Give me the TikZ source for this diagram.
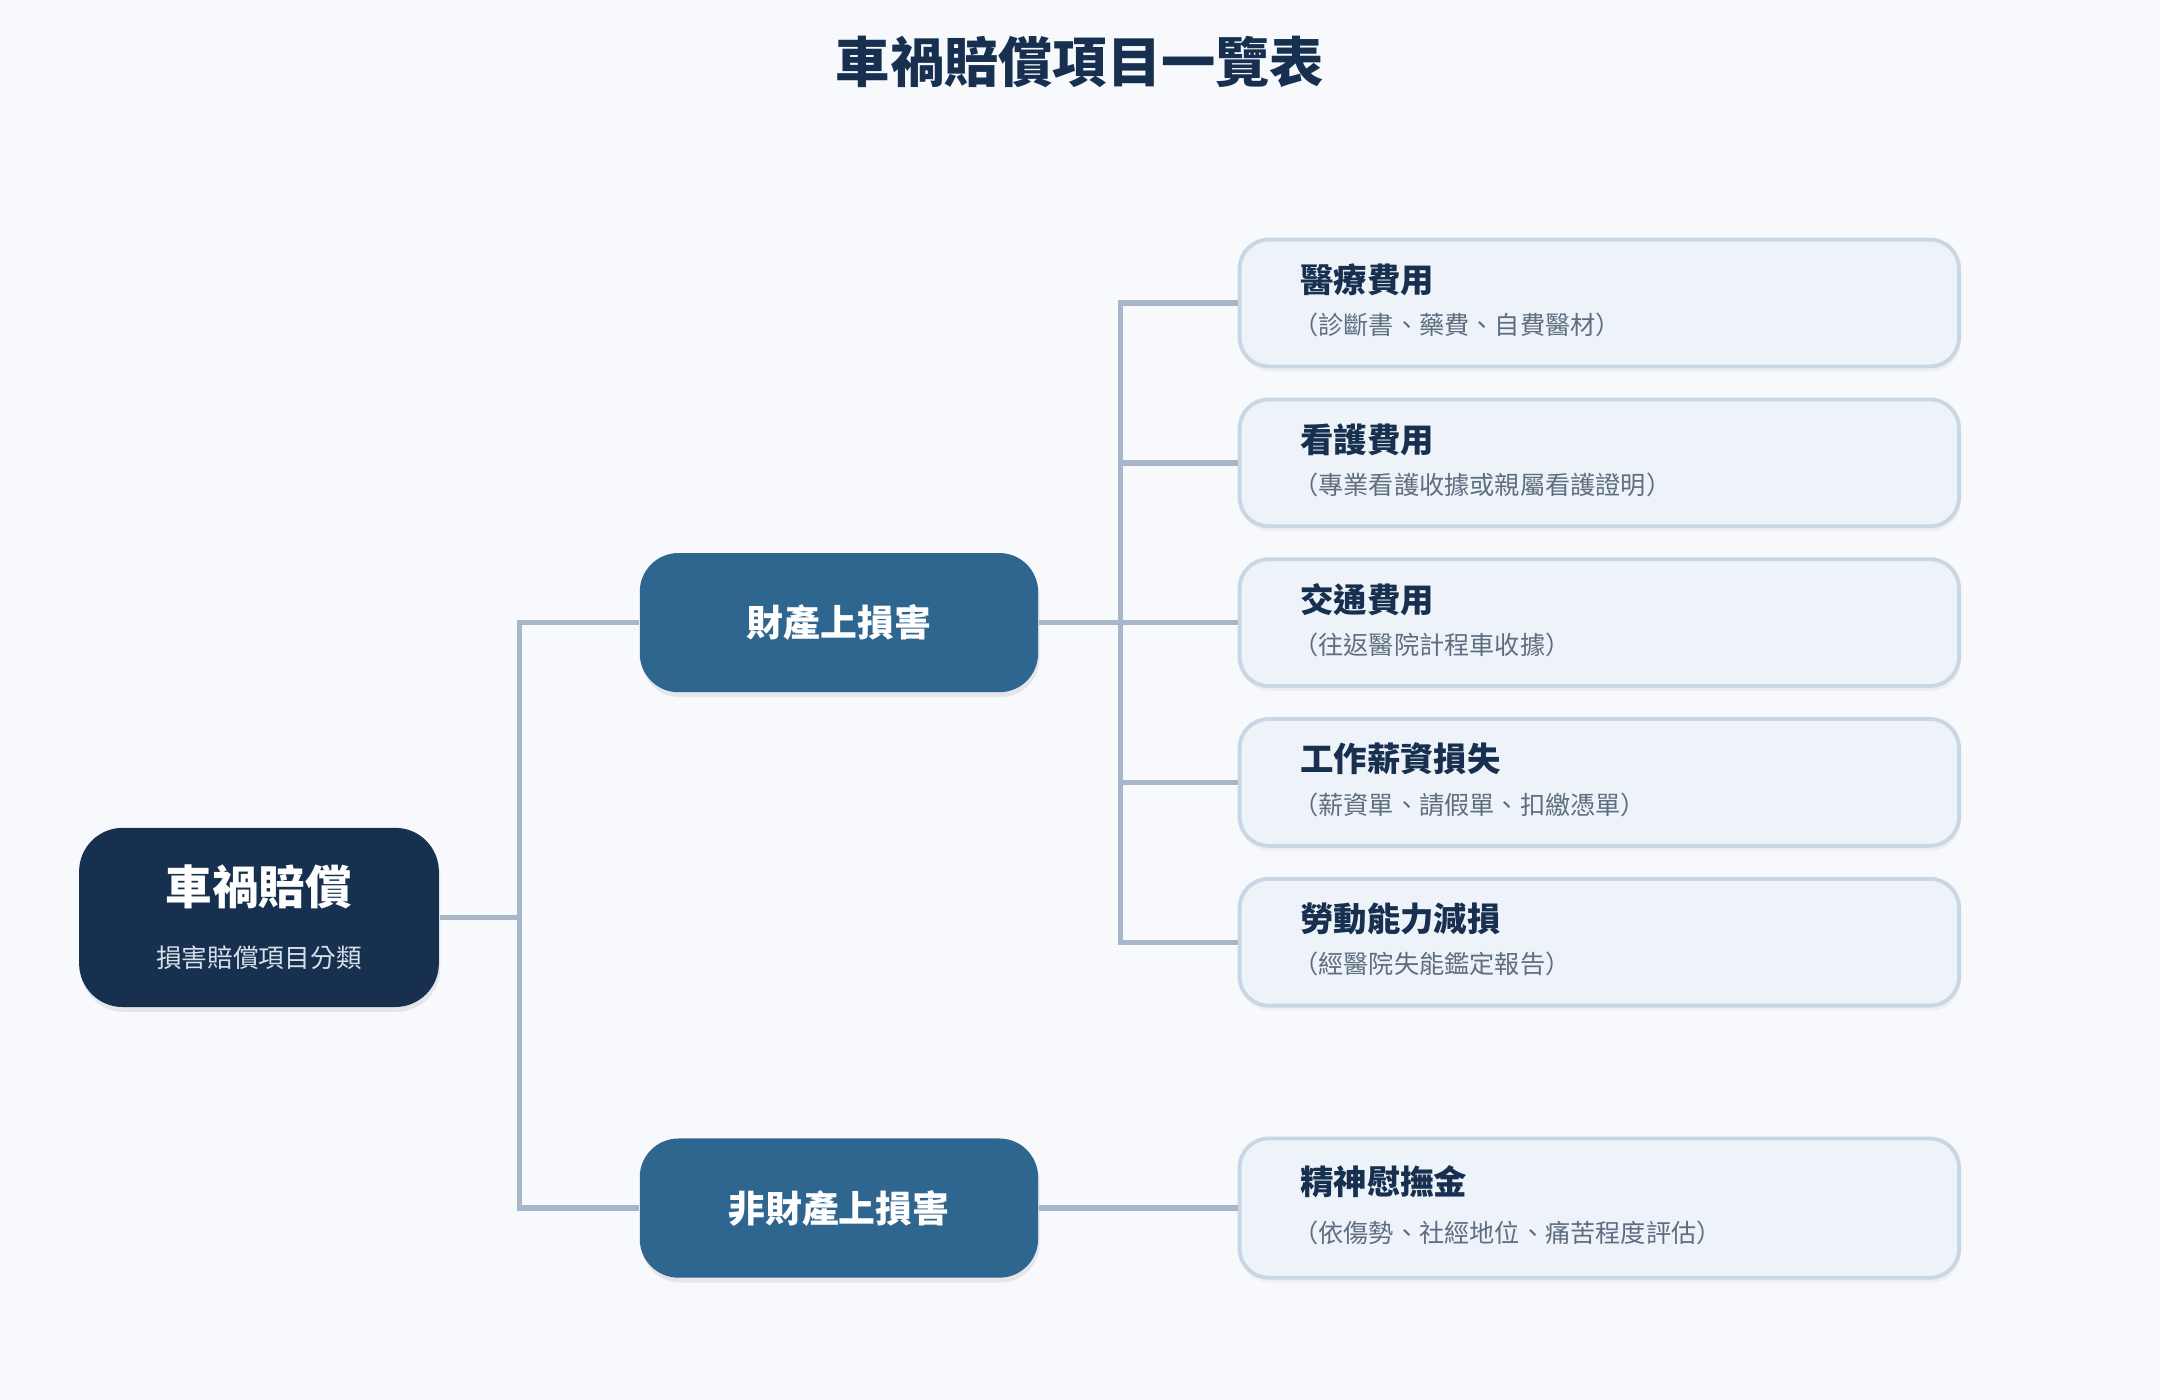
\documentclass[tikz,border=0pt]{standalone}
\usepackage{fontspec}
\setmainfont{Noto Sans CJK TC}
\usetikzlibrary{positioning,shadows}
\definecolor{bgc}{HTML}{F7F9FC}
\definecolor{navy}{HTML}{17304F}
\definecolor{midc}{HTML}{2E6690}
\definecolor{leafc}{HTML}{EEF3F9}
\definecolor{leafb}{HTML}{C9D6E5}
\definecolor{linec}{HTML}{A7B6C8}
\definecolor{subc}{HTML}{5E6E80}
\tikzset{
  rootbox/.style={rounded corners=9pt, fill=navy, text=white, minimum width=2.61cm, minimum height=1.3cm, align=center, drop shadow={opacity=0.15, shadow xshift=0.3pt, shadow yshift=-1pt}},
  midbox/.style={rounded corners=8pt, fill=midc, text=white, minimum width=2.89cm, minimum height=1.01cm, font=\fontsize{7.6pt}{9pt}\selectfont\bfseries, drop shadow={opacity=0.15, shadow xshift=0.3pt, shadow yshift=-1pt}},
  leafbox/.style={rounded corners=6pt, fill=leafc, draw=leafb, line width=0.8pt, minimum width=5.22cm, minimum height=0.92cm, drop shadow={opacity=0.08, shadow xshift=0.3pt, shadow yshift=-1pt}},
  leaftitle/.style={anchor=west, text=navy, font=\fontsize{6.9pt}{8pt}\selectfont\bfseries},
  leafsub/.style={anchor=west, text=subc, font=\fontsize{5.2pt}{6pt}\selectfont},
  link/.style={draw=linec, line width=1.1pt}
}
\begin{document}
\begin{tikzpicture}[x=0.01cm, y=-0.01cm]
  \fill[bgc] (0,0) rectangle (1568,1016);
  \useasboundingbox (0,0) rectangle (1568,1016);
  \node[text=navy, font=\fontsize{11.2pt}{13pt}\selectfont\bfseries] (title) at (784,45) {車禍賠償項目一覽表};
  % root and branches
  \node[rootbox] (root) at (188,666) {{\fontsize{9.6pt}{12pt}\selectfont\bfseries 車禍賠償}\\[1pt]{\fontsize{5.3pt}{7pt}\selectfont\color{white!80!midc} 損害賠償項目分類}};
  \node[midbox] (prop) at (609,452) {財產上損害};
  \node[midbox] (nonprop) at (609,877) {非財產上損害};
  \draw[link] (root.east) -- ++(58,0) |- (prop.west);
  \draw[link] (root.east) -- ++(58,0) |- (nonprop.west);
  % leaves
  \foreach \n/\y/\t/\s in {l1/220/醫療費用/{（診斷書、藥費、自費醫材）},
      l2/336/看護費用/{（專業看護收據或親屬看護證明）},
      l3/452/交通費用/{（往返醫院計程車收據）},
      l4/568/工作薪資損失/{（薪資單、請假單、扣繳憑單）},
      l5/684/勞動能力減損/{（經醫院失能鑑定報告）}} {
    \node[leafbox] (\n) at (1161,\y) {};
    \node[leaftitle] at ([xshift=0.33cm,yshift=0.17cm]\n.west) {\t};
    \node[leafsub] at ([xshift=0.28cm,yshift=-0.16cm]\n.west) {\s};
    \draw[link] (prop.east) -- ++(59,0) |- (\n.west);
  }
  \node[leafbox, minimum height=1.01cm] (l6) at (1161,877) {};
  \node[leaftitle] at ([xshift=0.33cm,yshift=0.19cm]l6.west) {精神慰撫金};
  \node[leafsub] at ([xshift=0.28cm,yshift=-0.18cm]l6.west) {（依傷勢、社經地位、痛苦程度評估）};
  \draw[link] (nonprop.east) -- (l6.west);
\end{tikzpicture}
\end{document}
